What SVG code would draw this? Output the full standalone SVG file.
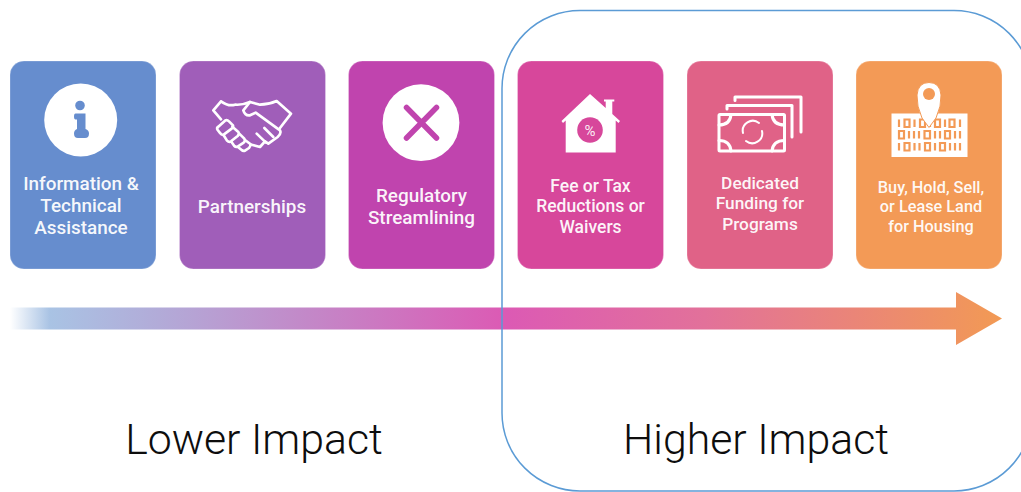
<svg xmlns="http://www.w3.org/2000/svg" width="1021" height="492" viewBox="0 0 1021 492">
<style>
.card{stroke:#fff;stroke-opacity:.25;stroke-width:1}
.t{font-family:Roboto,"Liberation Sans",sans-serif;font-weight:500;font-size:18.900px;fill:#fff;text-anchor:middle;fill-opacity:.95}
.s{font-size:17.500px}
.d{font-size:17.300px}
.b{font-size:16.300px}
.big{font-family:Roboto,"Liberation Sans",sans-serif;font-weight:300;font-size:42.800px;fill:#0d0d0d;text-anchor:middle}
.line{fill:none;stroke:#fff;stroke-width:3;stroke-linejoin:round;stroke-linecap:round}
.hs{fill:none;stroke:#fff;stroke-width:8;stroke-linejoin:round;stroke-linecap:round}
</style>
<defs>
<linearGradient id="g" gradientUnits="userSpaceOnUse" x1="10" y1="0" x2="1002" y2="0">
<stop offset="0" stop-color="#a9c3e4" stop-opacity="0"/>
<stop offset=".04" stop-color="#a9c3e4"/>
<stop offset=".15" stop-color="#b2abd8"/>
<stop offset=".3" stop-color="#c388c8"/>
<stop offset=".5" stop-color="#dc5ab4"/>
<stop offset=".7" stop-color="#e2719a"/>
<stop offset=".85" stop-color="#ea8578"/>
<stop offset="1" stop-color="#f29a54"/>
</linearGradient>
</defs>
<g id="connectors">
<path d="M10 307.500H956V292L1002 318.500L956 345V329.500H10Z" fill="url(#g)"/>
</g>
<g id="higher-impact-frame"><rect x="502" y="10.500" width="530" height="480.500" rx="78" ry="78" fill="none" stroke="#5b9bd5" stroke-width="1.500"/></g>

<g id="info">
<rect class="card" x="10" y="61" width="146" height="208" rx="14" fill="#668dce"/>
<circle cx="80.700" cy="120" r="36.500" fill="#fff"/>
<circle cx="80" cy="105.500" r="4.800" fill="#668dce"/>
<path d="M75.500 113.500H85.500V129Q89 130 89 133.500Q89 138 85 138H78Q74 138 74 133.500Q74 130 77 129V119.500H75.500Q74 119.500 74 116.500Q74 113.500 75.500 113.500Z" fill="#668dce"/>
<text class="t" x="81" y="190">Information &amp;</text>
<text class="t" x="81" y="212">Technical</text>
<text class="t" x="81" y="234">Assistance</text>
</g>

<g id="partnerships">
<rect class="card" x="179.500" y="61" width="146" height="208" rx="14" fill="#a05eb9"/>
<g transform="translate(205 92) scale(.3333)">
<path class="hs" d="M48 28L25 55L48 82M48 28Q70 44 90 38Q112 40 135 30L165 38Q190 38 215 27L258 65L225 108"/>
<path class="hs" d="M135 30L115 55Q120 72 135 70L152 62L225 115Q230 125 218 135L190 155L180 148L165 165L140 158"/>
<path class="hs" d="M178 108L205 135M155 125L183 152"/>
<path class="hs" d="M60 86Q66 82 72 88L84 100Q86 106 80 110L56 128Q50 130 46 124L38 114Q34 108 40 104ZM82 104L100 120Q104 126 98 132L78 148Q72 152 66 146L56 130M102 124L118 140Q122 146 116 152L98 164Q92 166 88 162L78 148M120 144L136 156Q138 162 132 168L120 176Q114 178 110 174L98 164"/>
</g>
<text class="t" x="252" y="212.700">Partnerships</text>
</g>

<g id="regulatory">
<rect class="card" x="348.500" y="61" width="146" height="208" rx="14" fill="#c044ae"/>
<circle cx="421" cy="122.700" r="38.400" fill="#fff"/>
<path d="M406.500 107.500L436.500 138M436.500 107.500L406.500 138" stroke="#c044ae" stroke-width="5.500" stroke-linecap="round" fill="none"/>
<text class="t" x="421.500" y="201.700">Regulatory</text>
<text class="t" x="421.500" y="224">Streamlining</text>
</g>

<g id="fee">
<rect class="card" x="517.500" y="61" width="146" height="208" rx="14" fill="#d7479b"/>
<path d="M590 94L605.700 108V101.500H604V99.500H614.300V101.500H612.300V114L620 121L618.500 123L615.700 120.500V152.500H565.700V120.500L563 123L561.500 121Z" fill="#fff"/>
<circle cx="590" cy="130" r="12.800" fill="#d7479b"/>
<text x="590" y="135.500" font-family="Roboto,'Liberation Sans',sans-serif" font-size="15" fill="#fff" text-anchor="middle" fill-opacity=".9">%</text>
<text class="t s" x="590.500" y="191.700">Fee or Tax</text>
<text class="t s" x="590.500" y="212.300">Reductions or</text>
<text class="t s" x="590.500" y="232.700">Waivers</text>
</g>

<g id="funding">
<rect class="card" x="687" y="61" width="146" height="208" rx="14" fill="#e06287"/>
<path class="line" d="M735 100.500V97H801V132M727 109V105.500H792V137"/>
<rect x="719" y="114.500" width="65.500" height="36.500" rx="1" class="line"/>
<path class="line" stroke-width="2" d="M719 125Q730 125 731 114.500M784.500 125Q773 125 772 114.500M719 140.500Q730 140.500 731 151M784.500 140.500Q773 140.500 772 151"/>
<path d="M759 123A10 10 0 0 0 743 133M746 141A10 10 0 0 0 762 131" fill="none" stroke="#fff" stroke-width="2" stroke-linecap="round"/>
<text class="t d" x="760" y="188.700">Dedicated</text>
<text class="t d" x="760" y="209.300">Funding for</text>
<text class="t d" x="760" y="230">Programs</text>
</g>

<g id="land">
<rect class="card" x="856" y="61" width="146" height="208" rx="14" fill="#f39a56"/>
<rect x="891.500" y="113.500" width="76" height="43.500" fill="#fff"/>
<g fill="none" stroke="#f39a56" stroke-width="2.200">
<path d="M899 119.500V127M904.500 119.500H909.500V127H904.500ZM914.500 119.500V127M920 119.500H925V127H920ZM930 119.500V127M935 119.500H940V127H935ZM945 119.500V127M949.500 119.500H954.500V127H949.500ZM960 119.500V127"/>
<path d="M899 131H904V138.500H899ZM909 131V138.500M914 131V138.500M919 131V138.500M924.500 131H930V138.500H924.500ZM935 131V138.500M940 131V138.500M945 131H950V138.500H945ZM955 131V138.500M960 131V138.500"/>
<path d="M899 143V150.500M904.500 143H909.500V150.500H904.500ZM914.500 143V150.500M919.500 143V150.500M925 143H930V150.500H925ZM935 143V150.500M940 143H945V150.500H940ZM950 143V150.500M955 143V150.500M960 143V150.500"/>
</g>
<path d="M929 127.500L936 118Q941.500 106 941 95Q940 82.500 929 82.500Q918 82.500 917 95Q916.500 106 922 118Z" fill="#fff" stroke="#f39a56" stroke-width="1"/>
<circle cx="929" cy="94" r="6" fill="#f39a56"/>
<text class="t b" x="931" y="192.700">Buy, Hold, Sell,</text>
<text class="t b" x="931" y="212.300">or Lease Land</text>
<text class="t b" x="931" y="231.700">for Housing</text>
</g>

<g id="labels">
<text class="big" x="254" y="454">Lower Impact</text>
<text class="big" x="756" y="454">Higher Impact</text>
</g>
</svg>
